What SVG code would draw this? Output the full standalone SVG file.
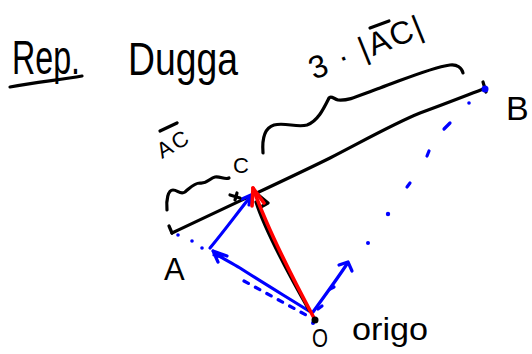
<svg xmlns="http://www.w3.org/2000/svg" width="532" height="354" viewBox="0 0 532 354">
<style>
  .hand { font-family: "Liberation Sans", "DejaVu Sans", sans-serif; fill: #000; }
  .ink { fill: none; stroke: #000; stroke-width: 3.2; stroke-linecap: round; stroke-linejoin: round; }
  .blue { fill: none; stroke: #0000ff; stroke-width: 3.2; stroke-linecap: round; stroke-linejoin: round; }
  .red { fill: none; stroke: #ff0000; stroke-width: 3.6; stroke-linecap: round; stroke-linejoin: round; }
  .bdot { fill: #0000ff; }
</style>
<rect width="532" height="354" fill="#ffffff"/>

<g id="title">
  <text class="hand" x="12" y="74" font-size="48" textLength="68" lengthAdjust="spacingAndGlyphs">Rep.</text>
  <path class="ink" d="M10,87 C35,82 60,80 82,76" stroke-width="3.6"/>
  <text class="hand" x="128" y="75" font-size="46" textLength="110" lengthAdjust="spacingAndGlyphs">Dugga</text>
</g>

<g id="connectors">
  <!-- main black line A to B -->
  <path class="ink" d="M172,233 C250,196 300,173 330,158 C365,140 395,123 420,113 C445,104 465,96 486,88"/>
  <!-- big brace 3|AC| -->
  <path class="ink" d="M263,153 C262,140 264,128 274,125 C285,122 297,128 307,125 C318,121 324,108 329,98 C331,95 334,99 338,100 C350,101 360,95 380,88 C405,79 430,68 450,65 C457,64 462,68 463,73"/>
  <!-- small brace AC -->
  <path class="ink" d="M167,210 C166,200 168,190 173,190 C178,190 180,195 185,192 C190,188 194,183 200,183 C207,184 210,178 215,177 C220,176 225,180 229,178"/>

  <!-- blue dotted A to start of AC arrow -->
  <circle class="bdot" cx="178" cy="235" r="1.8"/>
  <circle class="bdot" cx="192" cy="241" r="1.8"/>
  <circle class="bdot" cx="202" cy="248" r="1.8"/>
  <!-- blue AC arrow -->
  <path class="blue" d="M210,248 C225,230 238,212 251,196"/>
  <path class="blue" d="M242,199 L251,195 L249,205"/>

  <!-- blue O to A arrow -->
  <path class="blue" d="M309,311 C285,296 260,281 240,268 C230,262 222,258 216,254"/>
  <path class="blue" d="M213,251 L227,256 M213,251 L218,262 M214,255 L222,257"/>
  <path class="blue" d="M244,281 L306,315" stroke-dasharray="5 8"/>

  <!-- blue O toward B arrow -->
  <path class="blue" d="M313,312 C323,298 335,282 347,264"/>
  <path class="blue" d="M339,265 L348,262 L352,271"/>
  <path class="blue" d="M318,309 L322,306 M330,289 L334,287"/>
  <!-- blue dots toward B -->
  <circle class="bdot" cx="368" cy="243" r="2"/>
  <circle class="bdot" cx="388" cy="214" r="2.2"/>
  <path class="blue" d="M407,187 L410,183 M427,156 L429,151 M444,129 L450,123"/>
  <circle class="bdot" cx="469" cy="103" r="1.8"/>

  <!-- black shadow line and red arrow O to C -->
  <path class="ink" d="M309,310 Q267,236 256,202" stroke-width="2.8"/>
  <path class="ink" d="M256,193 L268,203 L259,208" stroke-width="2.6"/>
  <path class="red" d="M314,318 Q270,236 253,188"/>
  <path class="red" d="M252,206 L253,188 L264,203"/>
</g>

<g id="node-A">
  <path class="ink" d="M169,226 L172,233"/>
  <text class="hand" x="164" y="280" font-size="31">A</text>
</g>

<g id="node-B">
  <path class="ink" d="M483,82 L486,92"/>
  <circle class="bdot" cx="485" cy="89" r="3.5"/>
  <text class="hand" x="506" y="120" font-size="34">B</text>
</g>

<g id="node-C">
  <path class="ink" d="M230,195 L240,198 M237,193 L235,200"/>
  <text class="hand" x="233" y="173" font-size="22">C</text>
</g>

<g id="node-O">
  <circle class="bdot" cx="313" cy="323" r="2"/>
  <circle cx="315" cy="320" r="3.5" fill="#000"/>
  <text class="hand" x="312" y="347" font-size="26" textLength="16" lengthAdjust="spacingAndGlyphs">O</text>
  <text class="hand" x="352" y="340" font-size="32" textLength="76" lengthAdjust="spacingAndGlyphs">origo</text>
</g>

<g id="labels">
  <g transform="translate(314,80) rotate(-22)">
    <text class="hand" x="0" y="0" font-size="32" textLength="120">3 · |AC|</text>
  </g>
  <path class="ink" d="M370,28 L389,21"/>
  <g transform="translate(162,159) rotate(-30)">
    <text class="hand" x="0" y="0" font-size="22" textLength="33">AC</text>
  </g>
  <path class="ink" d="M160,131 L177,123"/>
</g>
</svg>
